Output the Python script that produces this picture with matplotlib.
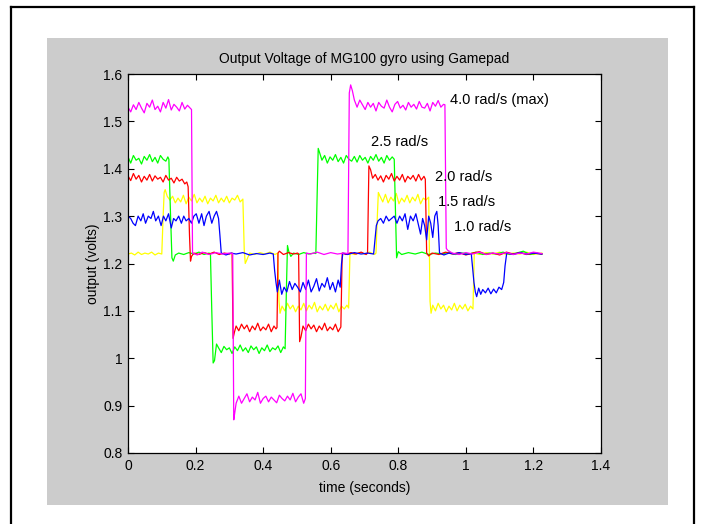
import matplotlib
matplotlib.use("Agg")
import matplotlib.pyplot as plt
from matplotlib.patches import Rectangle
from matplotlib.lines import Line2D

# ---------------- data (time s, output V) ----------------
magenta_40 = [
    (0.000,1.530),(0.008,1.520),(0.016,1.535),(0.024,1.525),(0.032,1.540),(0.040,1.528),(0.048,1.518),
    (0.056,1.538),(0.064,1.530),(0.072,1.545),(0.080,1.525),(0.088,1.532),(0.096,1.520),(0.104,1.540),
    (0.112,1.528),(0.120,1.546),(0.128,1.524),(0.136,1.536),(0.144,1.530),(0.152,1.522),(0.160,1.540),
    (0.168,1.526),(0.176,1.534),(0.184,1.528),(0.188,1.525),
    (0.191,1.222),(0.205,1.218),(0.220,1.224),(0.240,1.219),(0.260,1.223),(0.280,1.220),(0.300,1.222),(0.310,1.221),
    (0.313,0.870),(0.316,0.885),(0.320,0.905),(0.328,0.920),(0.336,0.905),(0.344,0.915),(0.352,0.925),
    (0.360,0.908),(0.368,0.918),(0.376,0.912),(0.384,0.928),(0.392,0.905),(0.400,0.915),(0.408,0.920),
    (0.416,0.908),(0.424,0.918),(0.432,0.912),(0.440,0.906),(0.448,0.922),(0.456,0.915),(0.464,0.910),
    (0.472,0.920),(0.480,0.912),(0.488,0.926),(0.496,0.908),(0.504,0.918),(0.512,0.925),(0.520,0.905),(0.525,0.915),
    (0.528,1.222),(0.540,1.220),(0.560,1.224),(0.580,1.219),(0.600,1.223),(0.620,1.220),(0.640,1.222),(0.651,1.221),
    (0.655,1.560),(0.659,1.577),(0.664,1.565),(0.670,1.545),(0.678,1.530),(0.686,1.545),(0.694,1.535),
    (0.702,1.525),(0.710,1.540),(0.718,1.530),(0.726,1.538),(0.734,1.522),(0.742,1.540),(0.750,1.532),
    (0.758,1.528),(0.766,1.545),(0.774,1.530),(0.782,1.520),(0.790,1.536),(0.798,1.542),(0.806,1.528),
    (0.814,1.534),(0.822,1.524),(0.830,1.540),(0.838,1.530),(0.846,1.536),(0.854,1.526),(0.862,1.542),
    (0.870,1.530),(0.878,1.528),(0.886,1.538),(0.894,1.522),(0.902,1.540),(0.910,1.532),(0.918,1.544),
    (0.926,1.530),(0.934,1.536),(0.938,1.535),
    (0.942,1.232),(0.946,1.228),(0.960,1.222),(0.980,1.219),(1.000,1.223),(1.020,1.220),(1.040,1.224),
    (1.060,1.219),(1.080,1.222),(1.100,1.220),(1.120,1.223),(1.140,1.219),(1.160,1.222),(1.180,1.220),
    (1.200,1.224),(1.225,1.221),
]

green_25 = [
    (0.000,1.425),(0.008,1.412),(0.016,1.428),(0.024,1.418),(0.032,1.422),(0.040,1.410),(0.048,1.426),
    (0.056,1.418),(0.064,1.430),(0.072,1.415),(0.080,1.424),(0.088,1.412),(0.096,1.428),(0.104,1.420),
    (0.112,1.416),(0.118,1.425),(0.121,1.420),
    (0.126,1.300),(0.130,1.212),(0.134,1.205),(0.140,1.218),(0.150,1.222),(0.165,1.219),(0.180,1.223),
    (0.195,1.220),(0.210,1.224),(0.225,1.219),(0.240,1.222),(0.244,1.220),
    (0.248,1.100),(0.252,0.990),(0.256,0.995),(0.262,1.030),(0.268,1.022),(0.276,1.012),(0.284,1.025),
    (0.292,1.018),(0.300,1.022),(0.308,1.010),(0.316,1.024),(0.324,1.016),(0.332,1.028),(0.340,1.015),
    (0.348,1.022),(0.356,1.012),(0.364,1.026),(0.372,1.018),(0.380,1.024),(0.388,1.010),(0.396,1.022),
    (0.404,1.016),(0.412,1.028),(0.420,1.014),(0.428,1.022),(0.436,1.018),(0.444,1.026),(0.452,1.012),
    (0.460,1.024),(0.465,1.020),
    (0.469,1.150),(0.472,1.238),(0.476,1.225),(0.482,1.215),(0.490,1.222),(0.505,1.219),(0.520,1.223),
    (0.535,1.220),(0.550,1.222),(0.556,1.221),
    (0.560,1.350),(0.563,1.443),(0.568,1.432),(0.574,1.418),(0.582,1.428),(0.590,1.412),(0.598,1.425),
    (0.606,1.418),(0.614,1.430),(0.622,1.415),(0.630,1.424),(0.638,1.412),(0.646,1.428),(0.654,1.420),
    (0.662,1.416),(0.670,1.426),(0.678,1.414),(0.686,1.428),(0.694,1.418),(0.702,1.424),(0.710,1.412),
    (0.718,1.426),(0.726,1.418),(0.734,1.430),(0.742,1.416),(0.750,1.424),(0.758,1.412),(0.766,1.428),
    (0.774,1.418),(0.782,1.425),(0.788,1.420),
    (0.792,1.300),(0.795,1.212),(0.800,1.225),(0.810,1.219),(0.830,1.223),(0.850,1.220),(0.870,1.224),
    (0.890,1.219),(0.910,1.222),(0.930,1.220),(0.950,1.224),(0.970,1.219),(0.990,1.222),(1.010,1.220),
    (1.030,1.224),(1.050,1.219),(1.070,1.222),(1.090,1.220),(1.110,1.224),(1.130,1.219),(1.150,1.222),
    (1.170,1.226),(1.190,1.219),(1.210,1.222),(1.225,1.220),
]

red_20 = [
    (0.000,1.385),(0.008,1.375),(0.016,1.390),(0.024,1.378),(0.032,1.386),(0.040,1.372),(0.048,1.384),
    (0.056,1.376),(0.064,1.388),(0.072,1.374),(0.080,1.385),(0.088,1.378),(0.096,1.382),(0.104,1.372),
    (0.112,1.386),(0.120,1.376),(0.128,1.380),(0.136,1.370),(0.144,1.382),(0.152,1.374),(0.160,1.378),
    (0.168,1.368),(0.174,1.372),(0.178,1.362),
    (0.182,1.260),(0.185,1.205),(0.188,1.215),(0.195,1.222),(0.210,1.219),(0.225,1.223),(0.240,1.220),
    (0.255,1.224),(0.270,1.219),(0.285,1.222),(0.300,1.220),(0.308,1.222),
    (0.311,1.042),(0.315,1.055),(0.320,1.068),(0.328,1.058),(0.336,1.072),(0.344,1.062),(0.352,1.070),
    (0.360,1.056),(0.368,1.068),(0.376,1.060),(0.384,1.074),(0.392,1.058),(0.400,1.066),(0.408,1.060),
    (0.416,1.072),(0.424,1.056),(0.432,1.068),(0.438,1.062),(0.441,1.065),
    (0.444,1.222),(0.448,1.226),(0.460,1.219),(0.475,1.223),(0.490,1.220),(0.502,1.222),(0.505,1.220),
    (0.508,1.035),(0.512,1.045),(0.518,1.068),(0.526,1.058),(0.534,1.072),(0.542,1.062),(0.550,1.070),
    (0.558,1.056),(0.566,1.068),(0.574,1.060),(0.582,1.074),(0.590,1.058),(0.598,1.066),(0.606,1.060),
    (0.614,1.072),(0.622,1.056),(0.630,1.066),
    (0.634,1.222),(0.645,1.219),(0.660,1.223),(0.675,1.220),(0.690,1.224),(0.705,1.219),(0.709,1.222),
    (0.713,1.406),(0.718,1.398),(0.724,1.380),(0.732,1.388),(0.740,1.376),(0.748,1.385),(0.756,1.372),
    (0.764,1.386),(0.772,1.378),(0.780,1.390),(0.788,1.374),(0.796,1.384),(0.804,1.376),(0.812,1.388),
    (0.820,1.372),(0.828,1.384),(0.836,1.378),(0.844,1.386),(0.852,1.374),(0.860,1.388),(0.868,1.376),
    (0.876,1.384),(0.880,1.378),
    (0.884,1.222),(0.890,1.216),(0.900,1.222),(0.920,1.219),(0.940,1.224),(0.960,1.220),(0.980,1.223),
    (1.000,1.218),(1.020,1.222),(1.040,1.225),(1.060,1.219),(1.080,1.222),(1.100,1.218),(1.120,1.224),
    (1.140,1.220),(1.160,1.223),(1.180,1.219),(1.200,1.222),(1.225,1.220),
]

yellow_15 = [
    (0.000,1.220),(0.010,1.222),(0.020,1.218),(0.030,1.224),(0.040,1.219),(0.050,1.222),(0.060,1.220),
    (0.070,1.224),(0.080,1.218),(0.090,1.222),(0.100,1.220),
    (0.104,1.300),(0.107,1.350),(0.110,1.356),(0.116,1.342),(0.124,1.334),(0.132,1.342),(0.140,1.328),
    (0.148,1.338),(0.156,1.330),(0.164,1.344),(0.172,1.326),(0.180,1.340),(0.188,1.332),(0.196,1.346),
    (0.204,1.328),(0.212,1.338),(0.220,1.330),(0.228,1.342),(0.236,1.326),(0.244,1.338),(0.252,1.332),
    (0.260,1.344),(0.268,1.328),(0.276,1.338),(0.284,1.330),(0.292,1.342),(0.300,1.328),(0.308,1.338),
    (0.316,1.334),(0.324,1.344),(0.332,1.330),(0.340,1.336),
    (0.344,1.230),(0.347,1.200),(0.352,1.208),(0.360,1.222),(0.375,1.219),(0.390,1.223),(0.405,1.220),
    (0.420,1.224),(0.435,1.219),(0.443,1.222),
    (0.447,1.120),(0.450,1.095),(0.456,1.110),(0.464,1.100),(0.472,1.116),(0.480,1.104),(0.488,1.112),
    (0.496,1.098),(0.504,1.110),(0.512,1.102),(0.520,1.116),(0.528,1.100),(0.536,1.112),(0.544,1.104),
    (0.552,1.118),(0.560,1.098),(0.568,1.110),(0.576,1.102),(0.584,1.114),(0.592,1.100),(0.600,1.112),
    (0.608,1.104),(0.616,1.116),(0.624,1.098),(0.632,1.110),(0.640,1.104),(0.648,1.112),(0.653,1.106),
    (0.657,1.222),(0.670,1.219),(0.685,1.223),(0.700,1.220),(0.715,1.224),(0.730,1.219),(0.734,1.222),
    (0.738,1.300),(0.741,1.350),(0.746,1.342),(0.754,1.330),(0.762,1.346),(0.770,1.328),(0.778,1.340),
    (0.786,1.332),(0.794,1.348),(0.802,1.326),(0.810,1.338),(0.818,1.330),(0.826,1.344),(0.834,1.328),
    (0.842,1.340),(0.850,1.332),(0.858,1.346),(0.866,1.326),(0.874,1.338),(0.882,1.334),(0.890,1.340),
    (0.894,1.120),(0.897,1.095),(0.902,1.112),(0.910,1.100),(0.918,1.116),(0.926,1.104),(0.934,1.112),
    (0.942,1.098),(0.950,1.110),(0.958,1.102),(0.966,1.116),(0.974,1.100),(0.982,1.112),(0.990,1.104),
    (0.998,1.114),(1.006,1.100),(1.014,1.110),(1.021,1.104),
    (1.025,1.222),(1.040,1.219),(1.060,1.223),(1.080,1.220),(1.100,1.224),(1.120,1.219),(1.140,1.222),
    (1.160,1.220),(1.180,1.224),(1.200,1.219),(1.225,1.222),
]

blue_10 = [
    (0.000,1.300),(0.008,1.295),(0.015,1.285),(0.022,1.280),(0.030,1.300),(0.038,1.290),(0.045,1.305),
    (0.052,1.285),(0.060,1.300),(0.068,1.295),(0.075,1.310),(0.082,1.290),(0.090,1.300),(0.098,1.280),
    (0.105,1.300),(0.112,1.290),(0.120,1.305),(0.128,1.275),(0.135,1.295),(0.142,1.290),(0.150,1.300),
    (0.158,1.285),(0.165,1.300),(0.172,1.290),(0.180,1.295),(0.188,1.285),(0.195,1.300),(0.202,1.305),
    (0.210,1.285),(0.218,1.305),(0.225,1.280),(0.232,1.300),(0.240,1.310),(0.248,1.285),(0.255,1.300),
    (0.262,1.310),(0.268,1.295),
    (0.272,1.260),(0.276,1.222),(0.290,1.218),(0.305,1.222),(0.320,1.220),(0.340,1.223),(0.360,1.218),
    (0.380,1.221),(0.400,1.219),(0.420,1.222),(0.430,1.220),
    (0.434,1.185),(0.438,1.160),(0.442,1.140),(0.448,1.165),(0.455,1.135),(0.462,1.150),(0.470,1.140),
    (0.478,1.162),(0.486,1.145),(0.494,1.158),(0.502,1.150),(0.510,1.140),(0.518,1.160),(0.526,1.145),
    (0.534,1.165),(0.542,1.140),(0.550,1.152),(0.558,1.168),(0.566,1.142),(0.574,1.158),(0.582,1.150),
    (0.590,1.170),(0.598,1.145),(0.606,1.160),(0.614,1.140),(0.622,1.165),(0.628,1.150),
    (0.632,1.200),(0.636,1.222),(0.650,1.219),(0.670,1.223),(0.690,1.220),(0.710,1.222),(0.727,1.220),
    (0.731,1.250),(0.735,1.280),(0.740,1.290),(0.748,1.295),(0.756,1.285),(0.764,1.300),(0.772,1.290),
    (0.780,1.295),(0.788,1.300),(0.796,1.285),(0.804,1.300),(0.812,1.290),(0.820,1.305),(0.828,1.272),
    (0.836,1.300),(0.844,1.290),(0.852,1.305),(0.860,1.280),(0.866,1.262),(0.872,1.295),(0.878,1.280),
    (0.884,1.250),(0.890,1.300),(0.896,1.285),(0.902,1.255),(0.908,1.300),(0.914,1.310),(0.918,1.280),
    (0.922,1.222),(0.935,1.218),(0.950,1.222),(0.965,1.220),(0.980,1.223),(1.000,1.219),(1.016,1.221),
    (1.020,1.190),(1.024,1.160),(1.028,1.140),(1.032,1.130),(1.038,1.148),(1.044,1.135),(1.050,1.145),
    (1.058,1.138),(1.066,1.148),(1.074,1.136),(1.082,1.146),(1.090,1.138),(1.098,1.150),(1.106,1.145),
    (1.112,1.160),(1.116,1.195),
    (1.121,1.222),(1.140,1.219),(1.160,1.223),(1.180,1.220),(1.200,1.222),(1.225,1.220),
]

series_order = ["1.5", "2.5", "2.0", "1.0", "4.0"]
series_data = {"4.0": magenta_40, "2.5": green_25, "2.0": red_20, "1.5": yellow_15, "1.0": blue_10}
series_colors = {"4.0": "#ff00ff", "2.5": "#00ff00", "2.0": "#ff0000", "1.5": "#ffff00", "1.0": "#0000ff"}

labels = ["4.0 rad/s (max)", "2.5 rad/s", "2.0 rad/s", "1.5 rad/s", "1.0 rad/s"]
label_t = [0.953, 0.718, 0.908, 0.918, 0.965]
label_v = [1.545, 1.457, 1.383, 1.330, 1.278]

title = "Output Voltage of MG100 gyro using Gamepad"
xlabel = "time (seconds)"
ylabel = "output (volts)"
xticks = [0, 0.2, 0.4, 0.6, 0.8, 1.0, 1.2, 1.4]
xticklabels = ["0", "0.2", "0.4", "0.6", "0.8", "1", "1.2", "1.4"]
yticks = [0.8, 0.9, 1.0, 1.1, 1.2, 1.3, 1.4, 1.5, 1.6]
yticklabels = ["0.8", "0.9", "1", "1.1", "1.2", "1.3", "1.4", "1.5", "1.6"]

# ---------------- figure ----------------
plt.rcParams["font.family"] = ["Liberation Sans", "DejaVu Sans"]
W, H = 701, 524
fig = plt.figure(figsize=(W / 100, H / 100), dpi=100)
fig.patch.set_facecolor("white")

def fx(px):
    return px / W

def fy(py):
    return 1 - py / H

# gray MATLAB figure background
fig.add_artist(Rectangle((fx(47), fy(505)), fx(668) - fx(47), fy(38) - fy(505),
                         transform=fig.transFigure, facecolor="#cccccc", edgecolor="none", zorder=0))
# outer black frame
for xs, ys in [([11, 11], [7, H + 5]), ([11, 694], [7, 7]), ([694, 694], [7, H + 5])]:
    fig.add_artist(Line2D([fx(v) for v in xs], [fy(v) for v in ys], transform=fig.transFigure,
                          color="black", linewidth=1.6, zorder=1))

ax = fig.add_axes([fx(128), fy(453), fx(601) - fx(128), fy(74) - fy(453)])
ax.set_facecolor("white")
ax.set_zorder(2)

for key in series_order:
    pts = series_data[key]
    ax.plot([p[0] for p in pts], [p[1] for p in pts], color=series_colors[key], linewidth=0.9)

for txt, tx, ty in zip(labels, label_t, label_v):
    ax.text(tx, ty, txt, fontsize=10.5, ha="left", va="center", color="black")

ax.set_xlim(0, 1.4)
ax.set_ylim(0.8, 1.6)
ax.set_xticks(xticks)
ax.set_xticklabels(xticklabels)
ax.set_yticks(yticks)
ax.set_yticklabels(yticklabels)
ax.tick_params(direction="in", length=4.5, width=0.8, top=True, right=True,
               labelsize=10, pad=4, colors="black")
for s in ax.spines.values():
    s.set_linewidth(0.9)
    s.set_color("black")

ax.set_title(title, fontsize=10, pad=8)
ax.set_xlabel(xlabel, fontsize=10, labelpad=6)
ax.set_ylabel(ylabel, fontsize=10, labelpad=2)

fig.savefig("out.png", dpi=100, facecolor=fig.get_facecolor())
